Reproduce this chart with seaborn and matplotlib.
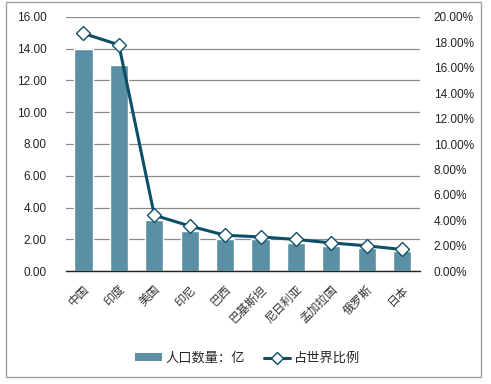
import matplotlib
matplotlib.use("Agg")
import matplotlib.pyplot as plt
import seaborn as sns
import pandas as pd
from matplotlib.lines import Line2D
from matplotlib.patches import Patch, Rectangle
from matplotlib.ticker import FuncFormatter

countries = ["中国", "印度", "美国", "印尼", "巴西", "巴基斯坦", "尼日利亚", "孟加拉国", "俄罗斯", "日本"]
population = [14.0, 13.0, 3.2, 2.5, 2.05, 2.0, 1.8, 1.6, 1.43, 1.25]
share_pct = [18.7, 17.8, 4.4, 3.55, 2.82, 2.69, 2.49, 2.22, 1.99, 1.70]
left_ticks = [0, 2, 4, 6, 8, 10, 12, 14, 16]
right_ticks = [0, 2, 4, 6, 8, 10, 12, 14, 16, 18, 20]
bar_label = "人口数量：亿"
line_label = "占世界比例"

sns.set_theme(style="white")
plt.rcParams["font.family"] = ["Liberation Sans", "Noto Sans CJK SC", "DejaVu Sans"]

bar_color = "#5B8FA6"
line_color = "#0E4F66"

df = pd.DataFrame({"country": countries, "pop": population, "pct": share_pct})

fig = plt.figure(figsize=(4.91, 3.84), dpi=100)
ax = fig.add_axes([0.134, 0.294, 0.721, 0.662])

sns.barplot(data=df, x="country", y="pop", color=bar_color, width=0.51,
            saturation=1, ax=ax, zorder=2)
ax.set_ylim(0, 16)
ax.set_yticks(left_ticks)
ax.yaxis.set_major_formatter(FuncFormatter(lambda v, p: f"{v:.2f}"))
ax.grid(axis="y", color="#8C8C8C", linewidth=0.9, zorder=0)
ax.set_axisbelow(True)
ax.set_xlabel("")
ax.set_ylabel("")
for s in ["left", "right", "top"]:
    ax.spines[s].set_visible(False)
ax.spines["bottom"].set_color("#222222")
ax.spines["bottom"].set_linewidth(1.0)
ax.tick_params(axis="y", length=0, labelsize=8.5, colors="#222222", pad=14)
ax.tick_params(axis="x", length=0, labelsize=8.5, colors="#333333", pad=9)
for lbl in ax.get_xticklabels():
    lbl.set_rotation(45)
    lbl.set_ha("right")
    lbl.set_rotation_mode("anchor")
ax.set_xlim(-0.5, len(countries) - 0.5)

ax2 = ax.twinx()
sns.lineplot(data=df, x="country", y="pct", sort=False, ax=ax2, color=line_color,
             linewidth=2.2, marker="D", markersize=7, markerfacecolor="white",
             markeredgecolor=line_color, markeredgewidth=1.0, zorder=3)
ax2.set_ylim(0, 20)
ax2.set_yticks(right_ticks)
ax2.yaxis.set_major_formatter(FuncFormatter(lambda v, p: f"{v:.2f}%"))
ax2.set_ylabel("")
for s in ["left", "right", "top", "bottom"]:
    ax2.spines[s].set_visible(False)
ax2.tick_params(axis="y", length=0, labelsize=8.5, colors="#222222", pad=10)
ax2.grid(False)
ax2.set_xlim(-0.5, len(countries) - 0.5)

handles = [
    Patch(facecolor=bar_color, edgecolor="none", label=bar_label),
    Line2D([0], [0], color=line_color, linewidth=2.2, marker="D", markersize=6,
           markerfacecolor="white", markeredgecolor=line_color, label=line_label),
]
fig.legend(handles=handles, loc="center", bbox_to_anchor=(0.505, 0.066), ncol=2,
           frameon=False, fontsize=9.5, handlelength=2.0, handleheight=0.55,
           columnspacing=1.4, handletextpad=0.3)

fig.patches.append(Rectangle((6 / 491, 1 - 377 / 384), 475 / 491, 375 / 384,
                             transform=fig.transFigure, fill=False,
                             edgecolor="#A0A0A0", linewidth=1.0))

fig.savefig("out.png", dpi=100)
